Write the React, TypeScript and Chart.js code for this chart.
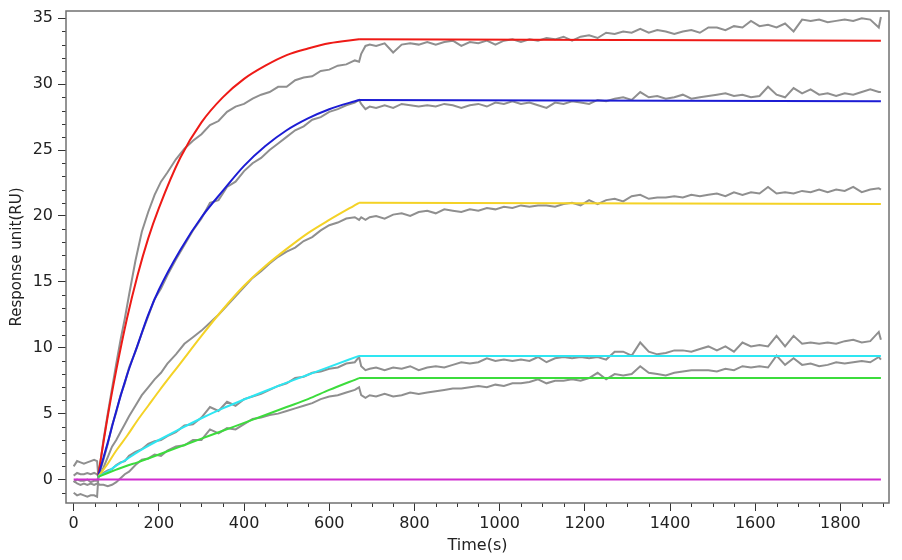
import { useEffect, useRef } from 'react';
import { Chart, registerables } from 'chart.js';

Chart.register(...registerables);

// measured sensorgram sample times (s)
const dataTime = [
  0, 8, 16, 24, 32, 40, 48, 55, 58,
  60, 70, 80, 90, 100, 110, 120, 130,
  145, 160, 175, 190, 205, 220,
  240, 260, 280, 300, 320, 340, 360, 380, 400, 420, 440,
  460, 480, 500, 520, 540, 560, 580, 600, 620, 640, 660, 670,
  675, 685, 695, 710, 730, 750, 770, 790, 810, 830, 850, 870, 890,
  910, 930, 950, 970, 990, 1010, 1030, 1050, 1070, 1090,
  1110, 1130, 1150, 1170, 1190, 1210, 1230, 1250, 1270, 1290,
  1310, 1330, 1350, 1370, 1390, 1410, 1430, 1450, 1470, 1490,
  1510, 1530, 1550, 1570, 1590, 1610, 1630, 1650, 1670, 1690,
  1710, 1730, 1750, 1770, 1790, 1810, 1830, 1850, 1870, 1890, 1895,
];

// measured responses (RU), one per concentration
const measuredRed = [
  1.0, 1.4, 1.3, 1.2, 1.3, 1.4, 1.5, 1.4, 0.2,
  0.7, 3.0, 5.0, 6.9, 8.8, 10.6, 12.2, 14.0,
  16.6, 18.8, 20.3, 21.6, 22.6, 23.3,
  24.3, 25.1, 25.7, 26.2, 26.9, 27.2, 27.9, 28.3, 28.5, 28.9, 29.2,
  29.4, 29.8, 29.8, 30.3, 30.5, 30.6, 31.0, 31.1, 31.4, 31.5, 31.8, 31.7,
  32.3, 32.9, 33.0, 32.9, 33.1, 32.4, 33.0, 33.1, 33.0, 33.2, 33.0, 33.2, 33.3,
  32.9, 33.2, 33.1, 33.3, 33.0, 33.3, 33.4, 33.2, 33.4, 33.3,
  33.5, 33.4, 33.6, 33.3, 33.6, 33.7, 33.5, 33.9, 33.8, 34.0,
  33.9, 34.2, 33.9, 34.1, 34.0, 33.8, 34.0, 34.1, 33.9, 34.3,
  34.3, 34.1, 34.4, 34.3, 34.8, 34.4, 34.5, 34.3, 34.6, 34.0,
  34.9, 34.8, 34.9, 34.7, 34.8, 34.9, 34.8, 35.0, 34.9, 34.3, 35.1,
];
const measuredBlue = [
  0.3, 0.5, 0.4, 0.4, 0.5, 0.4, 0.5, 0.4, 0.2,
  0.4, 1.5, 2.7, 4.1, 5.1, 6.4, 7.3, 8.5,
  9.7, 11.1, 12.4, 13.7, 14.5, 15.5,
  16.7, 17.8, 18.9, 19.8, 21.0, 21.2, 22.2, 22.6, 23.4, 24.0, 24.4,
  25.0, 25.5, 26.0, 26.5, 26.8, 27.3, 27.5, 27.9, 28.1, 28.4, 28.6, 28.8,
  28.5, 28.1, 28.3, 28.2, 28.4, 28.2, 28.5, 28.4, 28.3, 28.4, 28.3, 28.5, 28.4,
  28.2, 28.4, 28.5, 28.3, 28.6, 28.5, 28.7, 28.5, 28.6, 28.4,
  28.2, 28.6, 28.5, 28.7, 28.6, 28.5, 28.8, 28.7, 28.9, 29.0,
  28.8, 29.4, 29.0, 29.1, 28.9, 29.0, 29.2, 28.9, 29.0, 29.1,
  29.2, 29.3, 29.1, 29.2, 29.0, 29.1, 29.8, 29.2, 29.0, 29.7,
  29.3, 29.6, 29.2, 29.3, 29.1, 29.3, 29.2, 29.4, 29.6, 29.4, 29.4,
];
const measuredYellow = [
  -0.2, 0.0, -0.1, -0.1, 0.0, -0.2, -0.1, -0.1, 0.2,
  0.3, 0.9, 1.7, 2.5, 3.0, 3.6, 4.2, 4.8,
  5.6, 6.4, 7.0, 7.6, 8.1, 8.8,
  9.5, 10.3, 10.8, 11.3, 11.9, 12.5, 13.2, 13.9, 14.6, 15.3, 15.8,
  16.4, 16.9, 17.3, 17.6, 18.1, 18.4, 18.9, 19.3, 19.5, 19.8, 19.9, 19.7,
  19.9, 19.7, 19.9, 20.0, 19.8, 20.1, 20.2, 20.0, 20.3, 20.4, 20.2, 20.5, 20.4,
  20.3, 20.5, 20.4, 20.6, 20.5, 20.7, 20.6, 20.8, 20.7, 20.8,
  20.8, 20.7, 20.9, 21.0, 20.8, 21.2, 20.9, 21.2, 21.3, 21.1,
  21.5, 21.6, 21.3, 21.4, 21.4, 21.5, 21.4, 21.6, 21.5, 21.6,
  21.7, 21.5, 21.8, 21.6, 21.8, 21.7, 22.2, 21.7, 21.8, 21.7,
  21.9, 21.8, 22.0, 21.8, 22.0, 21.9, 22.2, 21.8, 22.0, 22.1, 22.0,
];
const measuredCyan = [
  -1.0, -1.2, -1.1, -1.2, -1.3, -1.2, -1.2, -1.3, 0.2,
  0.3, 0.5, 0.7, 0.8, 1.1, 1.3, 1.4, 1.8,
  2.1, 2.3, 2.7, 2.9, 3.0, 3.3,
  3.6, 4.1, 4.2, 4.7, 5.5, 5.2, 5.9, 5.6, 6.1, 6.3, 6.5,
  6.8, 7.1, 7.3, 7.7, 7.8, 8.1, 8.2, 8.4, 8.5, 8.8, 8.9, 9.3,
  8.6, 8.3, 8.4, 8.5, 8.3, 8.5, 8.4, 8.6, 8.3, 8.5, 8.6, 8.5, 8.7,
  8.9, 8.8, 8.9, 9.2, 9.0, 9.1, 9.0, 9.1, 9.0, 9.3,
  8.9, 9.2, 9.3, 9.2, 9.3, 9.2, 9.3, 9.1, 9.7, 9.7,
  9.4, 10.4, 9.7, 9.5, 9.6, 9.8, 9.8, 9.7, 9.9, 10.1,
  9.8, 10.1, 9.7, 10.4, 10.1, 10.2, 10.1, 10.9, 10.1, 10.9,
  10.3, 10.4, 10.3, 10.4, 10.3, 10.5, 10.6, 10.4, 10.5, 11.2, 10.6,
];
const measuredGreen = [
  -0.1, -0.3, -0.4, -0.3, -0.4, -0.3, -0.4, -0.3, -0.3,
  -0.4, -0.4, -0.5, -0.4, -0.2, 0.1, 0.4, 0.6,
  1.1, 1.5, 1.6, 1.9, 1.8, 2.2,
  2.5, 2.6, 3.0, 3.0, 3.8, 3.5, 3.9, 3.8, 4.2, 4.6, 4.7,
  4.9, 5.0, 5.2, 5.4, 5.6, 5.8, 6.1, 6.3, 6.4, 6.6, 6.8, 7.0,
  6.4, 6.2, 6.4, 6.3, 6.5, 6.3, 6.4, 6.6, 6.5, 6.6, 6.7, 6.8, 6.9,
  6.9, 7.0, 7.1, 7.0, 7.2, 7.1, 7.3, 7.3, 7.4, 7.6,
  7.3, 7.5, 7.5, 7.6, 7.5, 7.7, 8.1, 7.6, 8.0, 7.9,
  8.0, 8.6, 8.1, 8.0, 7.9, 8.1, 8.2, 8.3, 8.3, 8.3,
  8.2, 8.4, 8.3, 8.6, 8.5, 8.6, 8.5, 9.4, 8.7, 9.2,
  8.7, 8.8, 8.6, 8.7, 8.9, 8.8, 8.9, 9.0, 8.9, 9.3, 9.1,
];

// fitted association phase
const assocTime = [57, 80, 100, 125, 150, 175, 200, 250, 300, 350, 400, 450, 500, 550, 600, 670];
const assocRed = [0.2, 4.8, 8.3, 12.2, 15.5, 18.3, 20.6, 24.4, 27.1, 29.0, 30.4, 31.4, 32.2, 32.7, 33.1, 33.4];
const assocBlue = [0.2, 2.8, 5.2, 7.9, 10.2, 12.5, 14.4, 17.4, 19.9, 21.9, 23.8, 25.3, 26.5, 27.4, 28.1, 28.8];
const assocYellow = [0.2, 1.2, 2.2, 3.3, 4.5, 5.6, 6.7, 8.8, 10.9, 12.9, 14.7, 16.2, 17.5, 18.7, 19.7, 21.0];
const assocCyan = [0.2, 0.6, 1.05, 1.55, 2.08, 2.55, 3.0, 3.85, 4.65, 5.4, 6.07, 6.72, 7.35, 7.95, 8.55, 9.38];
const assocGreen = [0.2, 0.5, 0.75, 1.05, 1.3, 1.6, 1.9, 2.5, 3.1, 3.7, 4.3, 4.9, 5.5, 6.1, 6.8, 7.7];

// fitted dissociation phase
const dissocTime = [670, 1895];
const dissocRed = [33.4, 33.3];
const dissocBlue = [28.8, 28.7];
const dissocYellow = [21.0, 20.9];
const dissocCyan = [9.38, 9.38];
const dissocGreen = [7.7, 7.7];

// zero-concentration fit
const blankTime = [0, 1895];
const blankFit = [0, 0];

const xTicks = [0, 200, 400, 600, 800, 1000, 1200, 1400, 1600, 1800];
const yTicks = [0, 5, 10, 15, 20, 25, 30, 35];

const FONT = 'DejaVu Sans';
const INK = '#222';

const pts = (t: number[], v: number[]) => t.map((x, i) => ({ x, y: v[i] }));

// minor ticks and the box round the plot
const framePlugin = {
  id: 'frame',
  afterDraw(chart: any) {
    const { ctx, chartArea: a, scales } = chart;
    ctx.save();
    ctx.strokeStyle = '#333';
    ctx.lineWidth = 1;
    ctx.beginPath();
    for (let v = 50; v <= 1900; v += 50) {
      if (v % 200 === 0) continue;
      const px = Math.round(scales.x.getPixelForValue(v)) + 0.5;
      ctx.moveTo(px, a.bottom);
      ctx.lineTo(px, a.bottom + 4);
    }
    for (let v = -1; v <= 35; v += 1) {
      if (v % 5 === 0) continue;
      const py = Math.round(scales.y.getPixelForValue(v)) + 0.5;
      ctx.moveTo(a.left - 4, py);
      ctx.lineTo(a.left, py);
    }
    ctx.stroke();
    ctx.strokeStyle = '#707070';
    ctx.lineWidth = 1.5;
    ctx.strokeRect(a.left, a.top, a.right - a.left, a.bottom - a.top);
    ctx.restore();
  },
};

function SensorgramChart() {
  const canvasRef = useRef<HTMLCanvasElement>(null);
  const chartRef = useRef<Chart | null>(null);

  useEffect(() => {
    if (!canvasRef.current) return;
    if (chartRef.current) chartRef.current.destroy();

    const gray = (v: number[]) => ({
      data: pts(dataTime, v),
      borderColor: '#8f8f8f',
      borderWidth: 2,
      pointRadius: 0,
      tension: 0,
      order: 2,
    });
    const fit = (t: number[], v: number[], color: string, smooth: boolean) => ({
      data: pts(t, v),
      borderColor: color,
      borderWidth: 2,
      pointRadius: 0,
      cubicInterpolationMode: smooth ? ('monotone' as const) : ('default' as const),
      tension: smooth ? 0.4 : 0,
      order: 1,
    });

    chartRef.current = new Chart(canvasRef.current, {
      type: 'line',
      data: {
        datasets: [
          gray(measuredRed),
          gray(measuredBlue),
          gray(measuredYellow),
          gray(measuredCyan),
          gray(measuredGreen),
          fit(blankTime, blankFit, '#d02cd0', false),
          fit(assocTime, assocGreen, '#3cdc3c', true),
          fit(dissocTime, dissocGreen, '#3cdc3c', false),
          fit(assocTime, assocCyan, '#2ee6f2', true),
          fit(dissocTime, dissocCyan, '#2ee6f2', false),
          fit(assocTime, assocYellow, '#f4d226', true),
          fit(dissocTime, dissocYellow, '#f4d226', false),
          fit(assocTime, assocBlue, '#1c1cd4', true),
          fit(dissocTime, dissocBlue, '#1c1cd4', false),
          fit(assocTime, assocRed, '#ee1a16', true),
          fit(dissocTime, dissocRed, '#ee1a16', false),
        ],
      },
      options: {
        responsive: true,
        maintainAspectRatio: false,
        animation: false,
        layout: { padding: { left: 4, right: 13, top: 11, bottom: 3 } },
        plugins: {
          legend: { display: false },
          tooltip: { enabled: false },
        },
        scales: {
          x: {
            type: 'linear',
            min: -18,
            max: 1914,
            afterBuildTicks: (s: any) => {
              s.ticks = xTicks.map((value) => ({ value }));
            },
            afterFit: (s: any) => {
              s.height = 54;
              s.paddingLeft = 0;
              s.paddingRight = 0;
            },
            grid: { drawOnChartArea: false, tickLength: 8, tickColor: '#333', lineWidth: 1 },
            border: { display: false },
            ticks: {
              color: INK,
              font: { family: FONT, size: 16 },
              padding: 3,
              maxRotation: 0,
              autoSkip: false,
              callback: (value: any) => String(value),
            },
            title: {
              display: true,
              text: 'Time(s)',
              color: INK,
              font: { family: FONT, size: 16 },
              padding: { top: 0, bottom: 2 },
            },
          },
          y: {
            type: 'linear',
            min: -1.78,
            max: 35.55,
            afterBuildTicks: (s: any) => {
              s.ticks = yTicks.map((value) => ({ value }));
            },
            afterFit: (s: any) => {
              s.width = 62;
              s.paddingTop = 0;
              s.paddingBottom = 0;
            },
            grid: { drawOnChartArea: false, tickLength: 8, tickColor: '#333', lineWidth: 1 },
            border: { display: false },
            ticks: {
              color: INK,
              font: { family: FONT, size: 16 },
              padding: 5,
              callback: (value: any) => String(value),
            },
            title: {
              display: true,
              text: 'Response unit(RU)',
              color: INK,
              font: { family: FONT, size: 15 },
              padding: { top: 4, bottom: 0 },
            },
          },
        },
      },
      plugins: [framePlugin],
    });

    return () => {
      if (chartRef.current) {
        chartRef.current.destroy();
        chartRef.current = null;
      }
    };
  }, []);

  return (
    <div style={{ position: 'absolute', left: 0, top: 0, width: 902, height: 560, background: '#fff' }}>
      <canvas ref={canvasRef} />
    </div>
  );
}

export default function App() {
  return <SensorgramChart />;
}
